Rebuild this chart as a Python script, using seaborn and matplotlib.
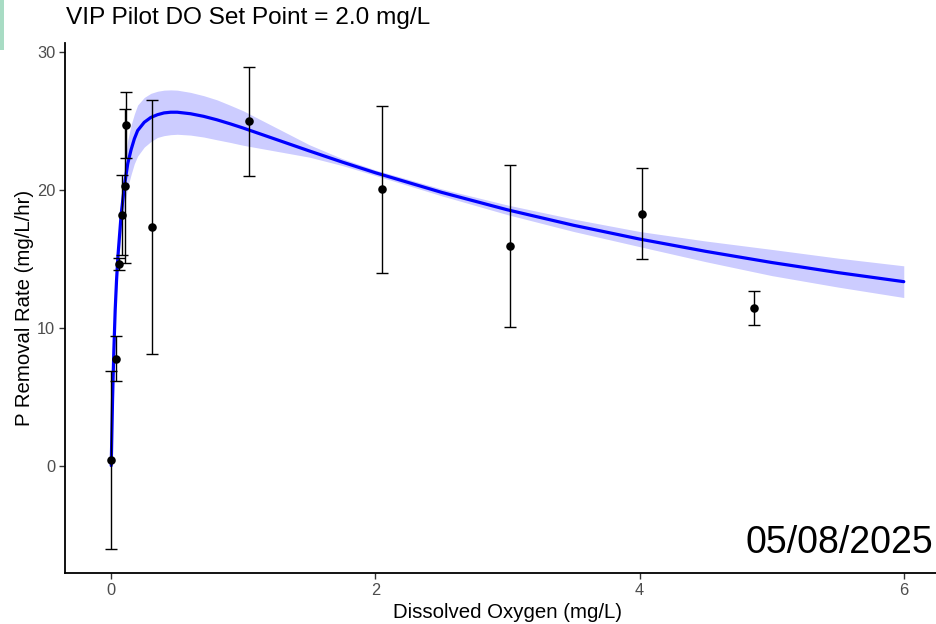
import matplotlib
matplotlib.use("Agg")
import matplotlib.pyplot as plt
from matplotlib.patches import Rectangle
import seaborn as sns
import pandas as pd

do_x = [0.0, 0.034, 0.057, 0.082, 0.108, 0.115, 0.309, 1.041, 2.048, 3.02, 4.02, 4.868]
rate_y = [0.43, 7.75, 14.6, 18.2, 20.25, 24.7, 17.3, 25.0, 20.07, 15.96, 18.26, 11.43]
rate_min = [-6.04, 6.1, 14.15, 15.29, 14.71, 22.3, 8.1, 21.0, 13.99, 10.05, 14.95, 10.17]
rate_max = [6.83, 9.37, 15.05, 21.04, 25.85, 27.1, 26.5, 28.9, 26.1, 21.8, 21.57, 12.68]

# ---- fitted curve and confidence band ----
fit_x = [0.0, 0.01, 0.02, 0.03, 0.04, 0.05, 0.075, 0.1, 0.125, 0.15, 0.175, 0.2, 0.25, 0.3,
         0.35, 0.4, 0.45, 0.5, 0.6, 0.7, 0.8, 0.9, 1.0, 1.25, 1.5, 1.75, 2.0, 2.5, 3.0,
         3.5, 4.0, 4.5, 5.0, 5.5, 6.0]
fit_y = [0.0, 4.8, 8.4, 11.3, 13.4, 15.1, 18.2, 20.3, 21.9, 22.9, 23.7, 24.3, 24.9, 25.25,
         25.45, 25.58, 25.63, 25.63, 25.52, 25.33, 25.08, 24.79, 24.48, 23.65, 22.82, 22.01,
         21.24, 19.82, 18.55, 17.43, 16.43, 15.54, 14.73, 14.0, 13.34]
fit_lo = [-0.3, 4.4, 7.8, 10.6, 12.6, 14.1, 16.9, 18.8, 20.2, 21.1, 21.9, 22.45, 23.1, 23.5,
          23.8, 23.93, 24.0, 24.03, 23.97, 23.83, 23.63, 23.44, 23.23, 22.8, 22.37, 21.76,
          21.04, 19.57, 18.2, 16.98, 15.88, 14.79, 13.78, 12.95, 12.19]
fit_hi = [0.3, 5.2, 9.0, 12.0, 14.2, 16.1, 19.5, 21.8, 23.6, 24.7, 25.5, 26.15, 26.7, 27.0,
          27.15, 27.23, 27.25, 27.23, 27.07, 26.83, 26.53, 26.14, 25.73, 24.5, 23.27, 22.26,
          21.44, 20.07, 18.9, 17.88, 16.98, 16.29, 15.68, 15.05, 14.49]

title_text = "VIP Pilot DO Set Point = 2.0 mg/L"
x_label = "Dissolved Oxygen (mg/L)"
y_label = "P Removal Rate (mg/L/hr)"
date_text = "05/08/2025"
x_ticks = [0, 2, 4, 6]
y_ticks = [0, 10, 20, 30]

obs = pd.DataFrame({"do": do_x, "rate": rate_y, "lo": rate_min, "hi": rate_max})
fit = pd.DataFrame({"do": fit_x, "rate": fit_y, "lo": fit_lo, "hi": fit_hi})

sns.set_theme(style="ticks")
plt.rcParams["font.family"] = ["Liberation Sans", "DejaVu Sans"]

W, H = 937, 624
fig = plt.figure(figsize=(W / 100, H / 100), dpi=100)
fig.patch.set_facecolor("white")
left_px, right_px, top_px, bottom_px = 65, 950, 43, 573
ax = fig.add_axes([left_px / W, 1 - bottom_px / H, (right_px - left_px) / W, (bottom_px - top_px) / H])

ax.fill_between(fit["do"], fit["lo"], fit["hi"], color="blue", alpha=0.2, linewidth=0, zorder=1)
sns.lineplot(data=fit, x="do", y="rate", color="blue", linewidth=2.3, ax=ax, zorder=2)
ax.errorbar(obs["do"], obs["rate"],
            yerr=[obs["rate"] - obs["lo"], obs["hi"] - obs["rate"]],
            fmt="none", ecolor="black", elinewidth=1.0, capsize=4.6, capthick=1.0, zorder=3)
sns.scatterplot(data=obs, x="do", y="rate", color="black", s=38, edgecolor="black",
                linewidth=0, ax=ax, zorder=4)

ax.set_xlim(-0.35, 6.35)
ax.set_ylim(-7.79, 30.65)
ax.set_xticks(x_ticks)
ax.set_yticks(y_ticks)
ax.set_xlabel(x_label, fontsize=14.7, color="black", labelpad=4)
ax.set_ylabel(y_label, fontsize=14.7, color="black", labelpad=2)
ax.tick_params(axis="both", length=4, width=1, color="#333333", labelsize=11.8,
               labelcolor="#4d4d4d", pad=3)
for side in ["top", "right"]:
    ax.spines[side].set_visible(False)
for side in ["left", "bottom"]:
    ax.spines[side].set_linewidth(1.3)
    ax.spines[side].set_color("black")

ax.text(6.22, -5.58, date_text, ha="right", va="center", fontsize=27, color="black")
fig.text(66 / W, 1 - 18 / H, title_text, ha="left", va="center", fontsize=17.6, color="black")
fig.patches.append(Rectangle((0, 1 - 50 / H), 4 / W, 50 / H, transform=fig.transFigure,
                             facecolor="#a8dcc4", edgecolor="none"))

fig.savefig("out.png", dpi=100)
